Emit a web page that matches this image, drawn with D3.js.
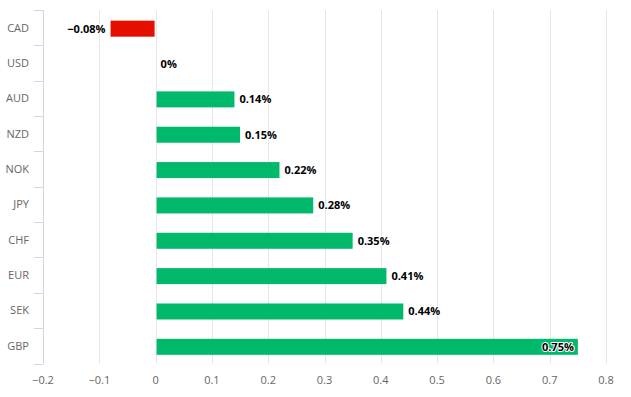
<!DOCTYPE html>
<html><head><meta charset="utf-8">
<script src="https://cdn.jsdelivr.net/npm/d3@7"></script>
<style>body{margin:0;background:#fff;}svg{display:block;font-family:"Open Sans","Noto Sans",sans-serif;}</style>
</head><body><svg id="c" width="631" height="397"></svg>
<script>
const categories = ["CAD","USD","AUD","NZD","NOK","JPY","CHF","EUR","SEK","GBP"];
const values = [-0.08,0,0.14,0.15,0.22,0.28,0.35,0.41,0.44,0.75];
const valueLabels = ["\u22120.08%","0%","0.14%","0.15%","0.22%","0.28%","0.35%","0.41%","0.44%","0.75%"];
const ticks = [-0.2,-0.1,0,0.1,0.2,0.3,0.4,0.5,0.6,0.7,0.8];

const svg = d3.select("#c");
const L=43, R=606, T=10, B=363.5;
const x = d3.scaleLinear().domain([-0.2,0.8]).range([L,R]);
const y = d3.scaleBand().domain(categories).range([T,B]).paddingInner(0).paddingOuter(0);

// gridlines
svg.append("g").selectAll("line").data(ticks.slice(1)).join("line")
  .attr("x1",d=>Math.round(x(d))+0.5).attr("x2",d=>Math.round(x(d))+0.5)
  .attr("y1",T).attr("y2",B).attr("stroke","#e6e6e6").attr("stroke-width",1);

// category axis
const ga = svg.append("g");
ga.append("line").attr("x1",L+0.5).attr("x2",L+0.5).attr("y1",T).attr("y2",B).attr("stroke","#ccd6eb");
const bounds = categories.map((c,i)=>y(c)).concat([B]);
ga.selectAll("line.t").data(bounds).join("line").attr("class","t")
  .attr("x1",L-9).attr("x2",L+0.5).attr("y1",d=>Math.round(d)+0.5).attr("y2",d=>Math.round(d)+0.5).attr("stroke","#ccd6eb");
ga.selectAll("text").data(categories).join("text")
  .attr("x",L-14).attr("y",d=>y(d)+y.bandwidth()/2+4)
  .attr("text-anchor","end").attr("fill","#666666").attr("font-size","11px").text(d=>d);

// value axis labels
svg.append("g").selectAll("text").data(ticks).join("text")
  .attr("x",d=>x(d)).attr("y",384).attr("text-anchor","middle")
  .attr("fill","#666666").attr("font-size","11px")
  .text(d=>d3.format("")(d).replace("-","\u2212"));

// bars
const bh = 16;
svg.append("g").selectAll("rect").data(values).join("rect")
  .attr("x",d=>d<0?x(d):x(0)+1).attr("width",d=>Math.max(0,Math.abs(x(d)-x(0))-1))
  .attr("y",(d,i)=>y(categories[i])+y.bandwidth()/2-bh/2+1).attr("height",bh)
  .attr("fill",d=>d<0?"#e50f00":"#00b96b");

// data labels
svg.append("g").selectAll("text").data(values).join("text")
  .attr("x",(d,i)=>{
    if(d<0) return x(d)-5;
    if(d>0.7) return x(d)-4;
    return x(d)+5;
  })
  .attr("text-anchor",d=>(d<0||d>0.7)?"end":"start")
  .attr("y",(d,i)=>y(categories[i])+y.bandwidth()/2+5)
  .attr("font-size","11px").attr("font-weight","bold").attr("fill","#000")
  .attr("stroke","#fff").attr("stroke-width",2).attr("stroke-linejoin","round").attr("paint-order","stroke")
  .text((d,i)=>valueLabels[i]);
</script></body></html>
